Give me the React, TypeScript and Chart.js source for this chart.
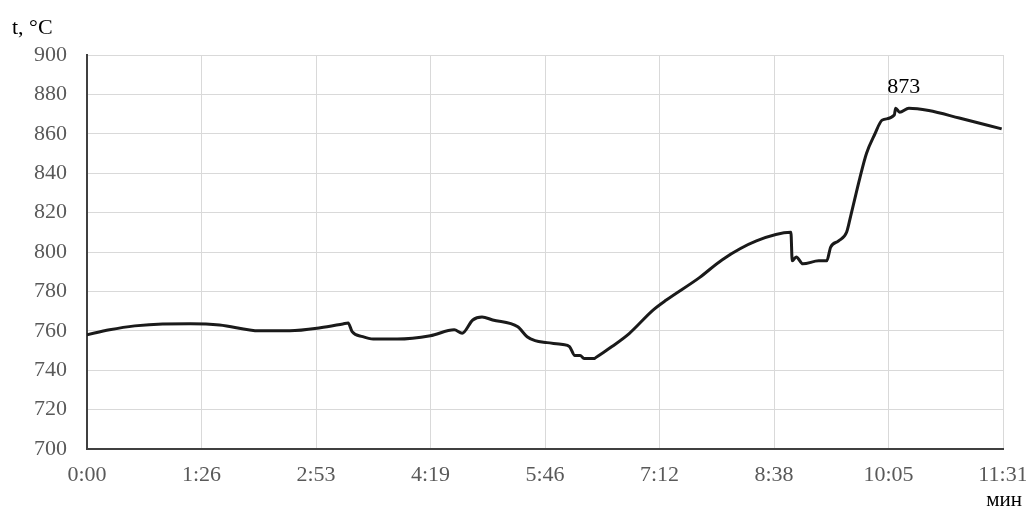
import React, { useEffect, useRef } from "react";
import { Chart, registerables } from "chart.js";

Chart.register(...registerables);

// time in seconds
const timeSec = [
  0, 17, 36, 57, 78, 100, 130, 153, 176, 193, 197, 200, 208, 216, 234, 259, 277, 283,
  291, 298, 306, 325, 332, 338, 347, 359, 364, 368, 372, 375, 383, 384, 396, 409, 427,
  437, 462, 479, 505, 531, 532, 535, 540, 552, 558, 561, 567, 573, 576, 583, 588, 594,
  600, 609, 610, 613, 620, 635, 658, 690,
];
// temperature, °C
const tempC = [
  758, 760.5, 762.5, 763.5, 763.6, 763, 760, 760, 761.5, 763.5, 764, 759.6, 757, 755.8,
  755.8, 757.5, 760.5, 758.8, 765.5, 767, 765.5, 762, 757, 755, 754, 753, 752, 747.5,
  747.5, 746, 746, 746.5, 752, 758.6, 770.5, 775.6, 787, 796, 805.6, 810, 795.5, 797.5,
  794, 795.5, 795.5, 802.5, 805.6, 810, 818, 837.5, 850, 859.4, 867, 869.5, 873, 871,
  873, 871.8, 868, 862.5,
];

const xTickSeconds = [0, 86.375, 172.75, 259.125, 345.5, 431.875, 518.25, 604.625, 691];
const xTickLabels = ["0:00", "1:26", "2:53", "4:19", "5:46", "7:12", "8:38", "10:05", "11:31"];
const yTicks = [700, 720, 740, 760, 780, 800, 820, 840, 860, 880, 900];
const peakLabelIndex = 54;

const FONT = "'Liberation Serif', 'Times New Roman', serif";

const textPlugin = {
  id: "extraText",
  afterDatasetsDraw(chart: any) {
    const ctx = chart.ctx;
    const meta = chart.getDatasetMeta(0);
    const pt = meta.data[peakLabelIndex];
    ctx.save();
    ctx.fillStyle = "#000";
    ctx.font = `22px ${FONT}`;
    ctx.textAlign = "center";
    ctx.textBaseline = "middle";
    if (pt) ctx.fillText(String(tempC[peakLabelIndex]), pt.x + 8, pt.y - 21);
    ctx.textAlign = "left";
    ctx.fillText("t, °C", 12, 28);
    ctx.font = `21px ${FONT}`;
    ctx.textAlign = "right";
    ctx.fillText("мин", 1022, 500);
    ctx.restore();
  },
};

export default function App() {
  const ref = useRef<HTMLCanvasElement>(null);
  useEffect(() => {
    if (!ref.current) return;
    const chart = new Chart(ref.current, {
      type: "line",
      data: {
        datasets: [
          {
            data: timeSec.map((t, i) => ({ x: t, y: tempC[i] })),
            borderColor: "#1a1a1a",
            borderWidth: 3,
            pointRadius: 0,
            cubicInterpolationMode: "monotone",
            fill: false,
          },
        ],
      },
      options: {
        animation: false,
        responsive: false,
        maintainAspectRatio: false,
        layout: { padding: { top: 55, right: 23, bottom: 0, left: 0 } },
        plugins: { legend: { display: false }, tooltip: { enabled: false } },
        scales: {
          x: {
            type: "linear",
            min: 0,
            max: 691,
            afterBuildTicks: (s: any) => {
              s.ticks = xTickSeconds.map((v) => ({ value: v }));
            },
            afterFit: (s: any) => {
              s.height = 61;
              s.paddingRight = 0;
              s.paddingLeft = 0;
            },
            ticks: {
              callback: (_v: any, i: number) => xTickLabels[i],
              color: "#595959",
              font: { family: FONT, size: 22 },
              padding: 13,
              maxRotation: 0,
              autoSkip: false,
            },
            grid: { color: "#d9d9d9", lineWidth: 1, drawTicks: false },
            border: { color: "#404040", width: 2 },
          },
          y: {
            min: 700,
            max: 900,
            afterBuildTicks: (s: any) => {
              s.ticks = yTicks.map((v) => ({ value: v }));
            },
            afterFit: (s: any) => {
              s.width = 87;
              s.paddingTop = 0;
              s.paddingBottom = 0;
            },
            ticks: {
              color: "#595959",
              font: { family: FONT, size: 22 },
              padding: 20,
            },
            grid: { color: "#d9d9d9", lineWidth: 1, drawTicks: false },
            border: { color: "#404040", width: 2 },
          },
        },
      },
      plugins: [textPlugin],
    } as any);
    return () => chart.destroy();
  }, []);
  return (
    <div style={{ position: "fixed", left: 0, top: 0, width: 1026, height: 510, background: "#fff" }}>
      <canvas ref={ref} width={1026} height={510} />
    </div>
  );
}
